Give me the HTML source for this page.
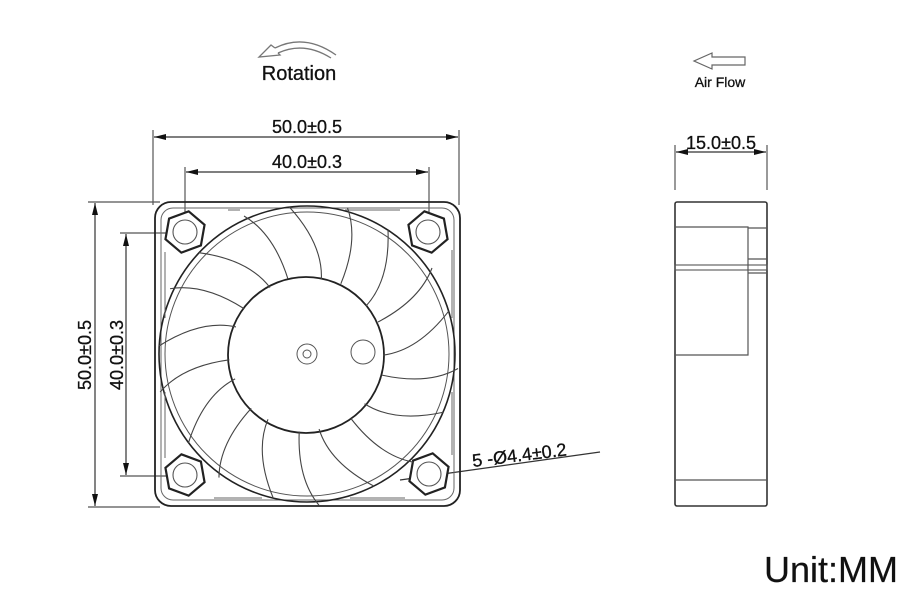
<!DOCTYPE html>
<html><head><meta charset="utf-8"><style>
html,body{margin:0;padding:0;background:#fff;width:912px;height:596px;overflow:hidden}
svg{display:block}
text{font-family:"Liberation Sans",sans-serif;fill:#111;stroke:#111;stroke-width:0.3}
</style></head><body>
<svg width="912" height="596" viewBox="0 0 912 596" xmlns="http://www.w3.org/2000/svg">
<defs>
<marker id="a" viewBox="0 0 12 6" refX="12" refY="3" markerWidth="12" markerHeight="6" orient="auto-start-reverse" markerUnits="userSpaceOnUse"><path d="M0,0L12,3L0,6z" fill="#111"/></marker>
</defs>
<g stroke="#555" stroke-width="1.2" fill="none">
<!-- rotation arrow -->
<path d="M336,55 Q305,33 275,48" stroke="#777" stroke-width="1.3"/>
<path d="M331,58 Q304,41 278,53" stroke="#777" stroke-width="1.3"/>
<path d="M275,48 L271,45 L259,57 L280,55 L278,53" stroke="#777" stroke-width="1.3"/>
<!-- air flow arrow -->
<path d="M745,57 L712,57 L712,53 L694,61 L712,69 L712,65 L745,65 Z" stroke="#666"/>
<!-- top dims -->
<line x1="153" y1="130" x2="153" y2="205"/>
<line x1="459" y1="130" x2="459" y2="205"/>
<line x1="154" y1="137" x2="458" y2="137" marker-start="url(#a)" marker-end="url(#a)" stroke="#333"/>
<line x1="185" y1="167" x2="185" y2="235"/>
<line x1="429" y1="167" x2="429" y2="235"/>
<line x1="186" y1="172" x2="428" y2="172" marker-start="url(#a)" marker-end="url(#a)" stroke="#333"/>
<!-- left dims -->
<line x1="88" y1="202" x2="160" y2="202"/>
<line x1="88" y1="507" x2="160" y2="507"/>
<line x1="95" y1="203" x2="95" y2="506" marker-start="url(#a)" marker-end="url(#a)" stroke="#333"/>
<line x1="120" y1="233" x2="185" y2="233"/>
<line x1="120" y1="476" x2="185" y2="476"/>
<line x1="126" y1="234" x2="126" y2="475" marker-start="url(#a)" marker-end="url(#a)" stroke="#333"/>
<!-- side dims -->
<line x1="675" y1="145" x2="675" y2="190"/>
<line x1="767" y1="145" x2="767" y2="190"/>
<line x1="676" y1="152" x2="766" y2="152" marker-start="url(#a)" marker-end="url(#a)" stroke="#333"/>
<!-- hole callout -->
<line x1="400" y1="480" x2="600" y2="452" stroke="#333"/>
</g>
<text x="299" y="80" font-size="20" text-anchor="middle">Rotation</text>
<text x="720" y="87" font-size="14" text-anchor="middle">Air Flow</text>
<text x="307" y="133" font-size="18" text-anchor="middle">50.0±0.5</text>
<text x="307" y="168" font-size="18" text-anchor="middle">40.0±0.3</text>
<text x="721" y="149" font-size="18" text-anchor="middle">15.0±0.5</text>
<text transform="translate(91,355) rotate(-90)" font-size="18" text-anchor="middle">50.0±0.5</text>
<text transform="translate(123,355) rotate(-90)" font-size="18" text-anchor="middle">40.0±0.3</text>
<text x="473" y="467" font-size="18" transform="rotate(-7 473 467)">5 -Ø4.4±0.2</text>
<text x="831" y="582" font-size="36" text-anchor="middle" style="stroke-width:0.2">Unit:MM</text>

<!-- fan front -->
<g fill="none" stroke="#222" stroke-width="1.8">
<rect x="155" y="202" width="305" height="304" rx="16"/>
<rect x="161" y="208" width="293" height="292" rx="12" stroke="#666" stroke-width="1"/>
<circle cx="307" cy="354" r="148" stroke-width="1.6"/>
<circle cx="307" cy="354" r="142" stroke="#555" stroke-width="1"/>
<circle cx="306" cy="355" r="78" stroke-width="1.8"/>
<circle cx="307" cy="354" r="10" stroke="#555" stroke-width="1"/>
<circle cx="307" cy="354" r="4" stroke="#555" stroke-width="1"/>
<circle cx="363" cy="352" r="12" stroke="#555" stroke-width="1"/>
<!-- hexes -->
<g stroke-width="2.2" fill="#fff">
<polygon points="185,211 203,221.5 203,242.5 185,253 167,242.5 167,221.5" transform="rotate(10 185 232)"/>
<polygon points="428,211 446,221.5 446,242.5 428,253 410,242.5 410,221.5" transform="rotate(-10 428 232)"/>
<polygon points="185,454 203,464.5 203,485.5 185,496 167,485.5 167,464.5" transform="rotate(-10 185 475)"/>
<polygon points="429,453 447,463.5 447,484.5 429,495 411,484.5 411,463.5" transform="rotate(10 429 474)"/>
</g>
<g stroke="#555" stroke-width="1.1">
<circle cx="185" cy="232" r="12"/><circle cx="428" cy="232" r="12"/>
<circle cx="185" cy="475" r="12"/><circle cx="429" cy="474" r="12"/>
</g>
<!-- slots -->
<g stroke="#666" stroke-width="1">
<path d="M165,252 L165,318"/><path d="M165,392 L165,458"/>
<path d="M452,250 L452,318"/><path d="M452,392 L452,455"/>
<path d="M214,498 L262,498"/><path d="M350,498 L405,498"/>
<path d="M345,210 L400,210"/><path d="M228,210 L240,210"/>
</g>
<!-- blades -->
<g stroke="#444" stroke-width="1.1">
<g id="b"><path d="M366,306 Q390,280 388,230"/><path d="M378,322 Q420,300 432,268"/></g>
<use href="#b" transform="rotate(40 307 354)"/>
<use href="#b" transform="rotate(80 307 354)"/>
<use href="#b" transform="rotate(120 307 354)"/>
<use href="#b" transform="rotate(160 307 354)"/>
<use href="#b" transform="rotate(200 307 354)"/>
<use href="#b" transform="rotate(240 307 354)"/>
<use href="#b" transform="rotate(280 307 354)"/>
<use href="#b" transform="rotate(320 307 354)"/>
</g>
</g>

<!-- side view -->
<g fill="none" stroke="#333" stroke-width="1.6">
<rect x="675" y="202" width="92" height="304" rx="2"/>
<path d="M675,227 L748,227 L748,355 L675,355" stroke="#555" stroke-width="1.2"/>
<path d="M748,228 L767,228" stroke="#555" stroke-width="1.2"/>
<path d="M748,259 L767,259" stroke="#555" stroke-width="1.2"/>
<rect x="675" y="265" width="92" height="5" stroke="#555" stroke-width="1.1"/>
<path d="M748,273 L767,273" stroke="#555" stroke-width="1.2"/>
<path d="M675,480 L767,480" stroke="#555" stroke-width="1.2"/>
</g>
</svg>
</body></html>
